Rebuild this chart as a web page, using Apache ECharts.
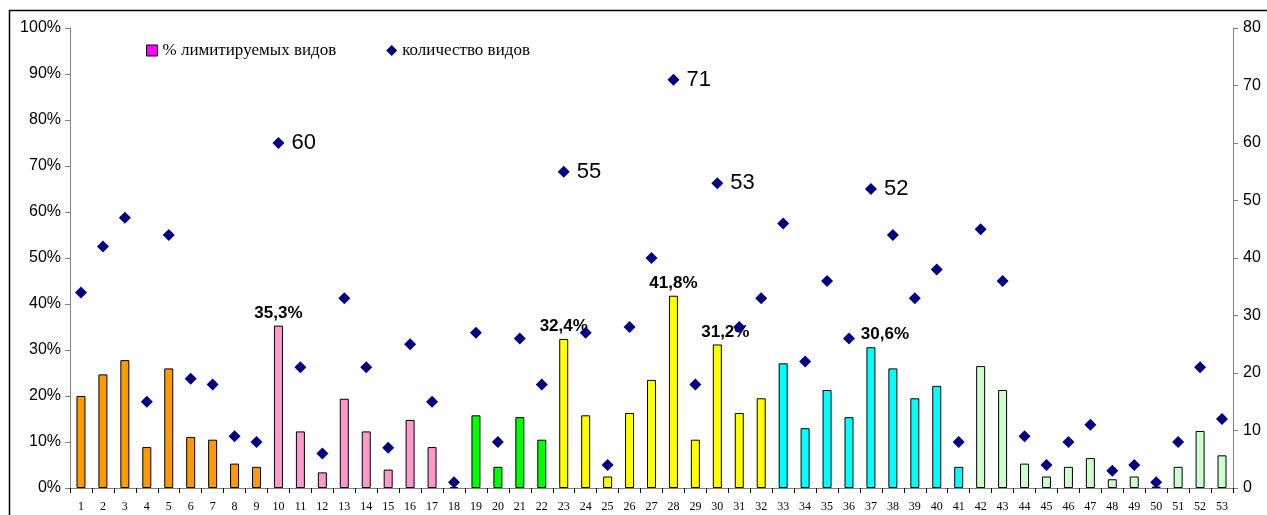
<!DOCTYPE html>
<html><head><meta charset="utf-8">
<script src="https://cdn.jsdelivr.net/npm/echarts@6/dist/echarts.min.js"></script>
<style>html,body{margin:0;padding:0;background:#fff}#c{width:1267px;height:515px}</style>
</head><body><div id="c"></div>
<script>
const categories = Array.from({length:53},(_,i)=>String(i+1));
const percentLimited = [20.0,24.7,27.8,8.9,26.0,11.1,10.5,5.3,4.6,35.3,12.3,3.4,19.4,12.3,4.0,14.8,8.9,0.2,15.8,4.6,15.4,10.5,32.4,15.8,2.5,16.3,23.5,41.8,10.5,31.2,16.3,19.5,27.1,13.0,21.3,15.4,30.6,26.0,19.5,22.2,4.6,26.5,21.3,5.3,2.5,4.6,6.5,1.9,2.5,0.3,4.6,12.4,7.1];
const speciesCount = [34,42,47,15,44,19,18,9,8,60,21,6,33,21,7,25,15,1,27,8,26,18,55,27,4,28,40,71,18,53,28,33,46,22,36,26,52,44,33,38,8,45,36,9,4,8,11,3,4,1,8,21,12];
const barGroupColors = [
  {from:1,to:9,color:'#FF9900'},
  {from:10,to:17,color:'#FF99CC'},
  {from:18,to:22,color:'#00FF00'},
  {from:23,to:32,color:'#FFFF00'},
  {from:33,to:41,color:'#00FFFF'},
  {from:42,to:53,color:'#CCFFCC'}
];
const labeledBars = [10,23,28,30,37];
const labeledPoints = [10,23,28,30,37];
const leftTicks = ['0%','10%','20%','30%','40%','50%','60%','70%','80%','90%','100%'];
const rightTicks = ['0','10','20','30','40','50','60','70','80'];

function groupColor(n){for(const g of barGroupColors){if(n>=g.from&&n<=g.to)return g.color;}return '#FF00FF';}
const fmtPct = v => v.toFixed(1).replace('.',',')+'%';
const barOffsets = {30:[8,0],37:[14,0]};

const barData = percentLimited.map((v,i)=>{
  const n=i+1;
  const d={value:v,itemStyle:{color:groupColor(n)}};
  if(labeledBars.includes(n)){
    d.label={show:true,position:'top',distance:4,formatter:p=>fmtPct(p.value),
      fontFamily:'Liberation Sans, Arial',fontWeight:'bold',fontSize:17,color:'#000',
      offset:barOffsets[n]||[0,0]};
  }
  return d;
});
const scatterData = speciesCount.map((v,i)=>{
  const n=i+1;
  const d={value:v};
  if(labeledPoints.includes(n)){
    d.label={show:true,position:'right',distance:7,formatter:'{c}',
      fontFamily:'Liberation Sans, Arial',fontSize:22,color:'#000'};
  }
  return d;
});

const chart = echarts.init(document.getElementById('c'),null,{renderer:'canvas'});
chart.setOption({
  animation:false,
  backgroundColor:'#fff',
  graphic:[{type:'rect',shape:{x:9.5,y:10.5,width:1400,height:700},style:{fill:'none',stroke:'#000',lineWidth:1.5},silent:true,z:100}],
  legend:{
    left:141, top:37, itemGap:50, itemWidth:11, itemHeight:11,
    textStyle:{fontFamily:'Liberation Serif, Times New Roman',fontSize:17,color:'#000'},
    data:[
      {name:'% лимитируемых видов',icon:'rect',itemStyle:{color:'#FF00FF',borderColor:'#000',borderWidth:1}},
      {name:'количество видов',icon:'diamond',itemStyle:{color:'#000080',opacity:1}}
    ]
  },
  grid:{left:70,right:34,top:28,bottom:27},
  xAxis:{type:'category',data:categories,boundaryGap:true,
    axisLine:{lineStyle:{color:'#808080',width:1}},
    axisTick:{show:true,length:5,lineStyle:{color:'#000'}},
    axisLabel:{fontFamily:'Liberation Serif, Times New Roman',fontSize:12,color:'#000',margin:13,interval:0}},
  yAxis:[
    {type:'value',min:0,max:100,interval:10,position:'left',
     axisLine:{show:true,lineStyle:{color:'#808080'}},
     axisTick:{show:true,length:5,lineStyle:{color:'#808080'}},
     splitLine:{show:false},
     axisLabel:{formatter:v=>leftTicks[Math.round(v/10)],fontFamily:'Liberation Sans, Arial',fontSize:16,color:'#000',margin:9}},
    {type:'value',min:0,max:80,interval:10,position:'right',
     axisLine:{show:true,lineStyle:{color:'#808080'}},
     axisTick:{show:true,length:5,lineStyle:{color:'#808080'}},
     splitLine:{show:false},
     axisLabel:{formatter:v=>rightTicks[Math.round(v/10)],fontFamily:'Liberation Sans, Arial',fontSize:16,color:'#000',margin:10}}
  ],
  series:[
    {name:'% лимитируемых видов',type:'bar',yAxisIndex:0,barWidth:9,
     itemStyle:{color:'#FF00FF',borderColor:'#000',borderWidth:1},
     data:barData},
    {name:'количество видов',type:'scatter',yAxisIndex:1,symbol:'diamond',symbolSize:12,
     itemStyle:{color:'#000080',opacity:1},data:scatterData,z:5}
  ]
});
</script></body></html>
